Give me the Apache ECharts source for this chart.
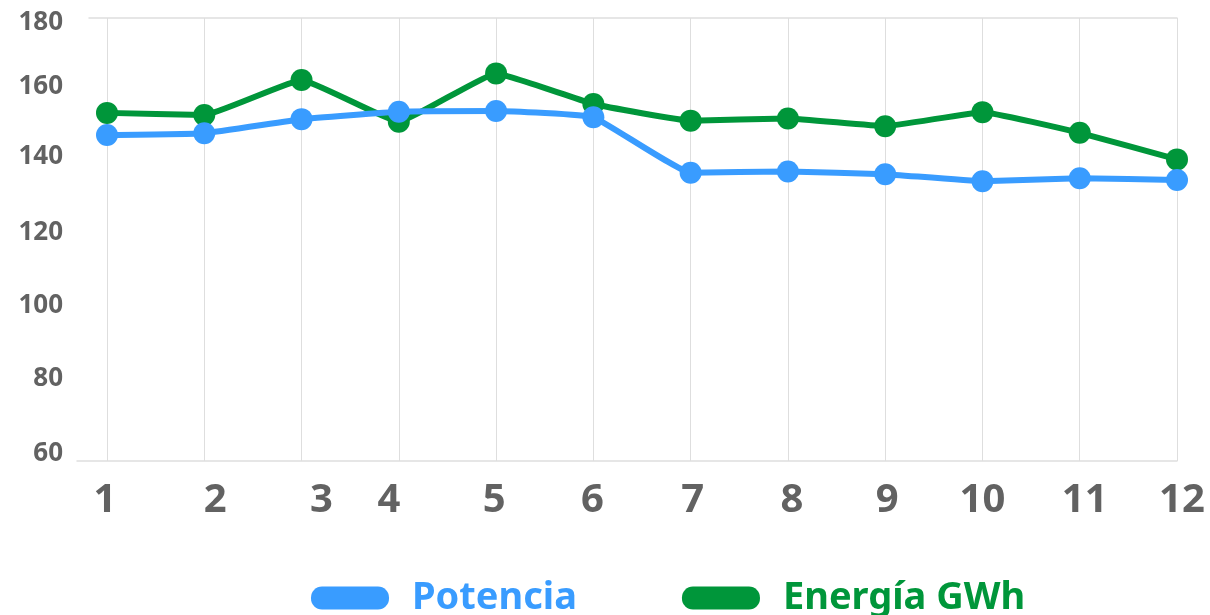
<!DOCTYPE html>
<html>
<head>
<meta charset="utf-8">
<title>Potencia y Energía</title>
<script src="https://cdn.jsdelivr.net/npm/echarts@6/dist/echarts.min.js"></script>
<style>
  html, body { margin: 0; padding: 0; background: #ffffff; }
  #chart { width: 1210px; height: 615px; }
</style>
</head>
<body>
<div id="chart"></div>
<script>
// Monthly values
const months = ['1', '2', '3', '4', '5', '6', '7', '8', '9', '10', '11', '12'];
const potencia = [148.3, 148.8, 152.6, 154.6, 154.8, 153.1, 138.1, 138.4, 137.7, 135.8, 136.6, 136.1];
const energia = [154.3, 153.7, 163.2, 151.9, 165.0, 156.7, 152.2, 152.8, 150.7, 154.5, 148.9, 141.7];
const yTicks = [60, 80, 100, 120, 140, 160, 180];

const BLUE = '#399cff';
const GREEN = '#00963a';
const LABEL = '#626262';
const RULE = '#dedede';
const FONT = '"Noto Sans", "DejaVu Sans", sans-serif';

// small hand-tuned label offsets (px): x to the right, y downwards
const xShift = [-2, 11, 20, -10, -2, -1, 2, 4, 2, 0, 5, 5];
const yShift = { 60: -7, 80: -9, 100: -8, 120: -7, 140: -9, 160: -5, 180: 5 };

const xRich = {};
xShift.forEach((d, i) => {
  xRich['x' + i] = {
    fontFamily: FONT, fontWeight: 'bold', fontSize: 40, color: LABEL,
    padding: d >= 0 ? [0, 0, 0, 2 * d] : [0, -2 * d, 0, 0]
  };
});
const yRich = {};
yTicks.forEach(v => {
  const d = yShift[v] || 0;
  yRich['y' + v] = {
    fontFamily: FONT, fontWeight: 'bold', fontSize: 26, color: LABEL,
    padding: d >= 0 ? [2 * d, 0, 0, 0] : [0, 0, -2 * d, 0]
  };
});

const pill = 'path://M11,0 H67 A11,11 0 0 1 78,11 V12 A11,11 0 0 1 67,23 H11 A11,11 0 0 1 0,12 V11 A11,11 0 0 1 11,0 Z';

const chart = echarts.init(document.getElementById('chart'), null, { renderer: 'canvas' });

chart.setOption({
  animation: false,
  backgroundColor: '#ffffff',
  grid: [
    // plot area holding the lines and the month columns
    { left: 107, right: 33, top: 18, bottom: 154 },
    // value axis labels and top border
    { left: 89, right: 33, top: 18, bottom: 154 },
    // baseline
    { left: 77, right: 33, top: 18, bottom: 154 }
  ],
  legend: {
    data: ['Potencia', 'Energía GWh'],
    left: 306,
    top: 572,
    icon: pill,
    itemWidth: 78,
    itemHeight: 23,
    itemGap: 105,
    textStyle: {
      fontFamily: FONT,
      fontWeight: 'bold',
      fontSize: 38,
      lineHeight: 42,
      padding: [0, 0, 0, 18],
      color: 'inherit'
    },
    selectedMode: false
  },
  xAxis: [
    {
      gridIndex: 0,
      type: 'category',
      data: months,
      boundaryGap: false,
      axisLine: { show: false },
      axisTick: { show: false },
      splitLine: { show: true, lineStyle: { color: RULE, width: 1 } },
      axisLabel: {
        margin: 20,
        formatter: (v, i) => '{x' + i + '|' + v + '}',
        rich: xRich
      }
    },
    {
      gridIndex: 1,
      type: 'value',
      position: 'top',
      min: 0, max: 1,
      axisLine: { show: true, lineStyle: { color: RULE, width: 1.5 } },
      axisTick: { show: false },
      axisLabel: { show: false },
      splitLine: { show: false }
    },
    {
      gridIndex: 2,
      type: 'value',
      position: 'bottom',
      min: 0, max: 1,
      axisLine: { show: true, lineStyle: { color: RULE, width: 1.5 } },
      axisTick: { show: false },
      axisLabel: { show: false },
      splitLine: { show: false }
    }
  ],
  yAxis: [
    {
      gridIndex: 0,
      type: 'value',
      min: yTicks[0], max: yTicks[yTicks.length - 1], interval: 20,
      show: false
    },
    {
      gridIndex: 1,
      type: 'value',
      min: yTicks[0], max: yTicks[yTicks.length - 1], interval: 20,
      axisLine: { show: false },
      axisTick: { show: false },
      splitLine: { show: false },
      axisLabel: {
        margin: 26,
        formatter: v => '{y' + v + '|' + v + '}',
        rich: yRich
      }
    },
    {
      gridIndex: 2,
      type: 'value',
      min: yTicks[0], max: yTicks[yTicks.length - 1],
      show: false
    }
  ],
  series: [
    {
      name: 'Energía GWh',
      type: 'line',
      xAxisIndex: 0, yAxisIndex: 0,
      data: energia,
      smooth: 0.1,
      symbol: 'circle',
      symbolSize: 22,
      itemStyle: { color: GREEN },
      lineStyle: { color: GREEN, width: 6 },
      z: 3
    },
    {
      name: 'Potencia',
      type: 'line',
      xAxisIndex: 0, yAxisIndex: 0,
      data: potencia,
      smooth: 0.1,
      symbol: 'circle',
      symbolSize: 22,
      itemStyle: { color: BLUE },
      lineStyle: { color: BLUE, width: 6 },
      z: 4
    }
  ]
});
</script>
</body>
</html>
